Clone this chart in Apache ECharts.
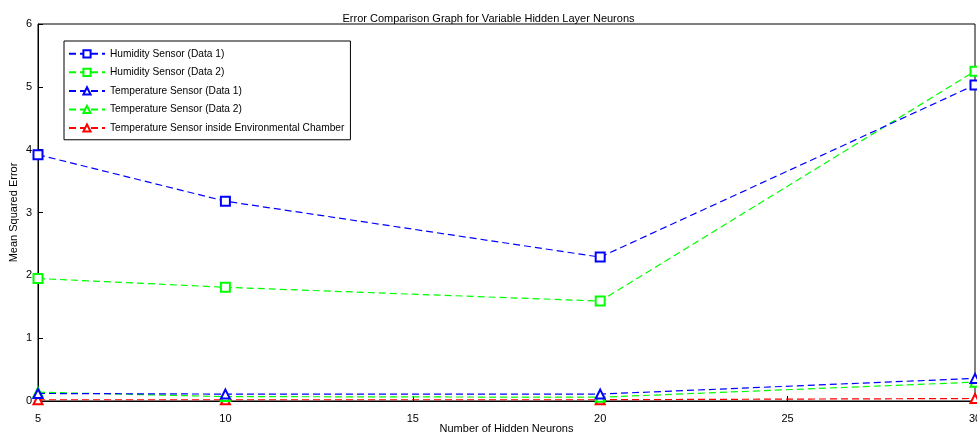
<!DOCTYPE html><html><head><script src="https://cdn.jsdelivr.net/npm/echarts@6/dist/echarts.min.js"></script></head><body style="margin:0;background:#fff">
<div id="c" style="width:977px;height:438px"></div>
<script>
const xs=[5,10,20,30];
const hum1=[3.92,3.18,2.29,5.03];
const hum2=[1.95,1.81,1.59,5.25];
const tmp1=[0.12,0.11,0.11,0.36];
const tmp2=[0.14,0.07,0.06,0.30];
const tmpChamber=[0.02,0.02,0.02,0.04];
const names=['Humidity Sensor (Data 1)','Humidity Sensor (Data 2)','Temperature Sensor (Data 1)','Temperature Sensor (Data 2)','Temperature Sensor inside Environmental Chamber'];
const vals=[hum1,hum2,tmp1,tmp2,tmpChamber];
const cols=['#0000ff','#00ff00','#0000ff','#00ff00','#ff0000'];
const syms=['rect','rect','triangle','triangle','triangle'];
const f='Arial, Liberation Sans, sans-serif';
const ch=echarts.init(document.getElementById('c'));
ch.setOption({animation:false,
title:{text:'Error Comparison Graph for Variable Hidden Layer Neurons',left:'center',top:4,textStyle:{fontSize:11,fontWeight:'normal',color:'#000',fontFamily:f}},
grid:{left:38,right:2,top:24,bottom:37,containLabel:false,outerBoundsMode:'none'},
legend:{left:64,top:41,orient:'vertical',itemGap:1,itemWidth:36,itemHeight:9,backgroundColor:'#fff',borderColor:'#000',borderWidth:1,borderRadius:0,padding:[4,6,3,4],textStyle:{fontSize:10.2,fontFamily:f,color:'#000',lineHeight:12},data:names},
xAxis:{type:'value',min:5,max:30,interval:5,name:'Number of Hidden Neurons',nameLocation:'middle',nameGap:28,nameMoveOverlap:false,nameTextStyle:{fontSize:11,fontFamily:f,color:'#000',verticalAlign:'middle'},axisLine:{onZero:false,lineStyle:{color:'#000'}},axisTick:{inside:true,length:5,lineStyle:{color:'#000'}},axisLabel:{fontSize:11,fontFamily:f,color:'#000'},splitLine:{show:false}},
yAxis:{type:'value',min:0,max:6,interval:1,name:'Mean Squared Error',nameLocation:'middle',nameGap:24,nameMoveOverlap:false,nameTextStyle:{fontSize:11,fontFamily:f,color:'#000',verticalAlign:'middle'},axisLine:{show:true,lineStyle:{color:'#000'}},axisTick:{inside:true,length:5,lineStyle:{color:'#000'}},axisLabel:{fontSize:11,fontFamily:f,color:'#000',margin:6},splitLine:{show:false}},
series:vals.map((v,i)=>({name:names[i],type:'line',data:xs.map((x,j)=>[x,v[j]]),symbol:syms[i]==='rect'?'emptyRect':'emptyTriangle',symbolSize:9,itemStyle:{color:cols[i],borderColor:cols[i],borderWidth:1},lineStyle:{color:cols[i],width:1.2,type:[7,4]},z:10-i})).concat([{type:'line',data:[],markArea:{silent:true,itemStyle:{color:'transparent',borderColor:'#000',borderWidth:1},data:[[{coord:[5,0]},{coord:[30,6]}]]}}])
});
</script></body></html>
